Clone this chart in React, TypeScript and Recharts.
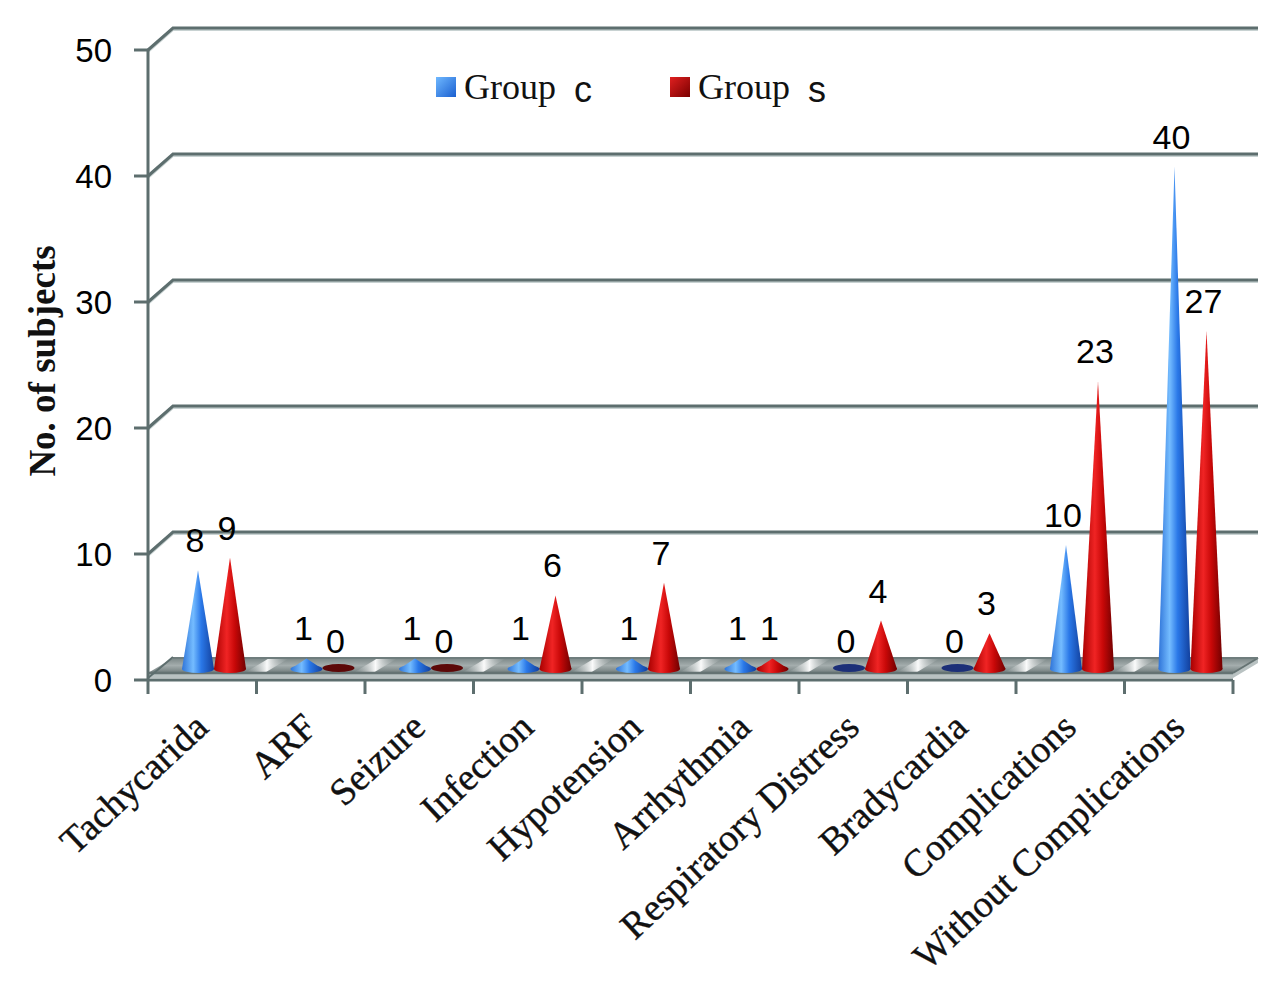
import React from 'react';
import { BarChart, Bar, XAxis, YAxis, CartesianGrid, Legend, LabelList } from 'recharts';

const categories = [
  'Tachycarida',
  'ARF',
  'Seizure',
  'Infection',
  'Hypotension',
  'Arrhythmia',
  'Respiratory Distress',
  'Bradycardia',
  'Complications',
  'Without Complications',
];
const groupC = [8, 1, 1, 1, 1, 1, 0, 0, 10, 40];
const groupS = [9, 0, 0, 6, 7, 1, 4, 3, 23, 27];
const yTicks = [0, 10, 20, 30, 40, 50];

const chartData = categories.map((name, i) => ({ name, c: groupC[i], s: groupS[i] }));

// layout
const W = 1262;
const H = 991;
const MARGIN = { top: 42, right: 37, left: 0, bottom: 0 };
const Y_AXIS_W = 140;
const X_AXIS_H = 319;
const PLOT_W = W - MARGIN.left - MARGIN.right - Y_AXIS_W;
const PLOT_BOTTOM = H - MARGIN.bottom - X_AXIS_H;
const BAND = PLOT_W / categories.length;

// 3D depth of the back wall and where the cones sit in it
const DEPTH_X = 25;
const DEPTH_Y = 22;
const CONE_DX = 12;
const CONE_DY = 9;

const AXIS_COLOR = '#5d6e6e';
const SANS = '"Liberation Sans", Arial, sans-serif';
const SERIF = '"Liberation Serif", "Times New Roman", serif';

// gridline drawn as a 3D wall line; the bottom one becomes the floor
const WallLine = (props: any) => {
  const { x1, x2, y1 } = props;
  if (Math.abs(y1 - PLOT_BOTTOM) < 1) {
    const top = y1 - DEPTH_Y;
    const front = y1 - 7;
    const streaks = categories.map((_, k) => x1 + (k + 1) * BAND);
    return (
      <g>
        <polygon
          points={`${x1},${front} ${x1 + DEPTH_X},${top} ${x2 + DEPTH_X},${top} ${x2},${front}`}
          fill="url(#floorShade)"
        />
        {streaks.slice(0, -1).map((bx) => (
          <polygon
            key={bx}
            points={`${bx - 12},${front} ${bx + 8},${front} ${bx + 8 + DEPTH_X},${top} ${bx - 12 + DEPTH_X},${top}`}
            fill="url(#floorStreak)"
          />
        ))}
        <polygon
          points={`${x1},${front} ${x2},${front} ${x2 + DEPTH_X},${top} ${x2 + DEPTH_X},${top + 5} ${x2},${y1 - 2} ${x1},${y1 - 2}`}
          fill="#b9c2c2"
        />
        <line x1={x1} y1={front} x2={x2} y2={front} stroke="#657373" strokeWidth={2.5} />
        <line x1={x2} y1={front} x2={x2 + DEPTH_X} y2={top} stroke="#657373" strokeWidth={2} />
        <line x1={x1 + DEPTH_X} y1={top} x2={x2 + DEPTH_X} y2={top} stroke="#6f7d7d" strokeWidth={2} />
        <line x1={x1} y1={y1 - 2} x2={x1 + DEPTH_X} y2={top - 1} stroke={AXIS_COLOR} strokeWidth={2} />
      </g>
    );
  }
  return (
    <g>
      <polyline
        points={`${x1},${y1 + 2} ${x1 + DEPTH_X},${y1 - DEPTH_Y + 2} ${x2 + DEPTH_X},${y1 - DEPTH_Y + 2}`}
        fill="none"
        stroke="#c8d2d2"
        strokeWidth={2}
      />
      <polyline
        points={`${x1},${y1} ${x1 + DEPTH_X},${y1 - DEPTH_Y} ${x2 + DEPTH_X},${y1 - DEPTH_Y}`}
        fill="none"
        stroke={AXIS_COLOR}
        strokeWidth={3}
      />
    </g>
  );
};

const makeCone = (grad: string, flat: string) => (props: any) => {
  const { x, y, width, height } = props;
  const cx = x + width / 2 + CONE_DX;
  const base = y + height - CONE_DY;
  const tip = y - CONE_DY;
  const half = 16;
  if (!height || height < 1) {
    return <ellipse cx={cx} cy={base - 3} rx={16} ry={4} fill={flat} />;
  }
  return (
    <g>
      <ellipse cx={cx} cy={base - 2} rx={half} ry={4} fill={`url(#${grad})`} />
      <polygon points={`${cx - half},${base - 2} ${cx},${tip} ${cx + half},${base - 2}`} fill={`url(#${grad})`} />
    </g>
  );
};

const ValueLabel = (props: any) => {
  const { x, y, width, value } = props;
  return (
    <text
      x={x + width / 2 + CONE_DX - 3}
      y={y - CONE_DY - 18}
      textAnchor="middle"
      fontFamily={SANS}
      fontSize={34}
      fill="#000"
    >
      {value}
    </text>
  );
};

const CategoryTick = (props: any) => {
  const { x, y, payload, index } = props;
  const last = index === categories.length - 1;
  return (
    <g>
      <line x1={x - BAND / 2} y1={y} x2={x - BAND / 2} y2={y + 14} stroke={AXIS_COLOR} strokeWidth={3} />
      {last && (
        <line x1={x + BAND / 2} y1={y} x2={x + BAND / 2} y2={y + 14} stroke={AXIS_COLOR} strokeWidth={3} />
      )}
      <text
        transform={`translate(${x + 8},${y + 50}) rotate(-43)`}
        textAnchor="end"
        fontFamily={SERIF}
        fontSize={38}
        fill="#111"
        stroke="#111"
        strokeWidth={0.4}
      >
        {payload.value}
      </text>
    </g>
  );
};

const LegendContent = () => {
  const item = (label: string, suffix: string, grad: [string, string], gap: number) => (
    <div style={{ display: 'flex', alignItems: 'center', marginRight: gap }}>
      <span
        style={{
          display: 'inline-block',
          width: 20,
          height: 20,
          marginRight: 8,
          background: `linear-gradient(135deg, ${grad[0]}, ${grad[1]})`,
        }}
      />
      <span style={{ fontFamily: SERIF, fontSize: 36, color: '#111' }}>{label}</span>
      <span style={{ fontFamily: SANS, fontSize: 36, color: '#111', marginLeft: 18, position: 'relative', top: 3 }}>
        {suffix}
      </span>
    </div>
  );
  return (
    <div style={{ display: 'flex', alignItems: 'center' }}>
      {item('Group', 'c', ['#6fb8ff', '#1a5fd0'], 78)}
      {item('Group', 's', ['#e02020', '#7a0000'], 0)}
    </div>
  );
};

const YTitle = (props: any) => {
  const vb = props.viewBox || { x: 0, y: MARGIN.top, height: PLOT_BOTTOM - MARGIN.top };
  const cx = vb.x + 34;
  const cy = vb.y + vb.height / 2 - 4;
  return (
    <text
      x={cx}
      y={cy}
      transform={`rotate(-90, ${cx}, ${cy})`}
      textAnchor="middle"
      dominantBaseline="central"
      fontFamily={SERIF}
      fontWeight="bold"
      fontSize={37}
      fill="#111"
    >
      No. of subjects
    </text>
  );
};

export default function App() {
  return (
    <div style={{ width: W, height: H, background: '#fff' }}>
      <BarChart width={W} height={H} data={chartData} margin={MARGIN} barSize={32} barGap={0}>
        <defs>
          <linearGradient id="coneBlue" x1="0" y1="0" x2="1" y2="0">
            <stop offset="0%" stopColor="#2f74d8" />
            <stop offset="35%" stopColor="#74bcff" />
            <stop offset="60%" stopColor="#2a78e8" />
            <stop offset="100%" stopColor="#123f9c" />
          </linearGradient>
          <linearGradient id="coneRed" x1="0" y1="0" x2="1" y2="0">
            <stop offset="0%" stopColor="#a80000" />
            <stop offset="40%" stopColor="#f02424" />
            <stop offset="65%" stopColor="#c80808" />
            <stop offset="100%" stopColor="#700000" />
          </linearGradient>
          <linearGradient id="floorShade" x1="0" y1="0" x2="0" y2="1">
            <stop offset="0%" stopColor="#7a8686" />
            <stop offset="50%" stopColor="#a4adad" />
            <stop offset="100%" stopColor="#707c7c" />
          </linearGradient>
          <linearGradient id="floorStreak" x1="0" y1="0" x2="1" y2="0">
            <stop offset="0%" stopColor="#a4adad" stopOpacity={0} />
            <stop offset="50%" stopColor="#ffffff" stopOpacity={0.95} />
            <stop offset="100%" stopColor="#a4adad" stopOpacity={0} />
          </linearGradient>
        </defs>
        <CartesianGrid vertical={false} horizontal={WallLine} />
        <XAxis
          dataKey="name"
          height={X_AXIS_H}
          interval={0}
          tick={CategoryTick}
          tickLine={false}
          tickSize={0}
          tickMargin={0}
          axisLine={{ stroke: AXIS_COLOR, strokeWidth: 3 }}
        />
        <YAxis
          width={Y_AXIS_W}
          domain={[0, 50]}
          ticks={yTicks}
          interval={0}
          tickSize={14}
          tickMargin={22}
          tickLine={{ stroke: AXIS_COLOR, strokeWidth: 3 }}
          axisLine={{ stroke: AXIS_COLOR, strokeWidth: 3 }}
          tick={{ fill: '#000', fontFamily: SANS, fontSize: 33 }}
          label={<YTitle />}
        />
        <Legend
          layout="horizontal"
          verticalAlign="middle"
          align="center"
          content={<LegendContent />}
          wrapperStyle={{ top: 58, left: 428, width: 'auto' }}
        />
        <Bar dataKey="c" name="Group c" fill="#2f74d8" shape={makeCone('coneBlue', '#1c2f78')} isAnimationActive={false}>
          <LabelList dataKey="c" content={<ValueLabel />} />
        </Bar>
        <Bar dataKey="s" name="Group s" fill="#c00000" shape={makeCone('coneRed', '#5c0808')} isAnimationActive={false}>
          <LabelList dataKey="s" content={<ValueLabel />} />
        </Bar>
      </BarChart>
    </div>
  );
}
